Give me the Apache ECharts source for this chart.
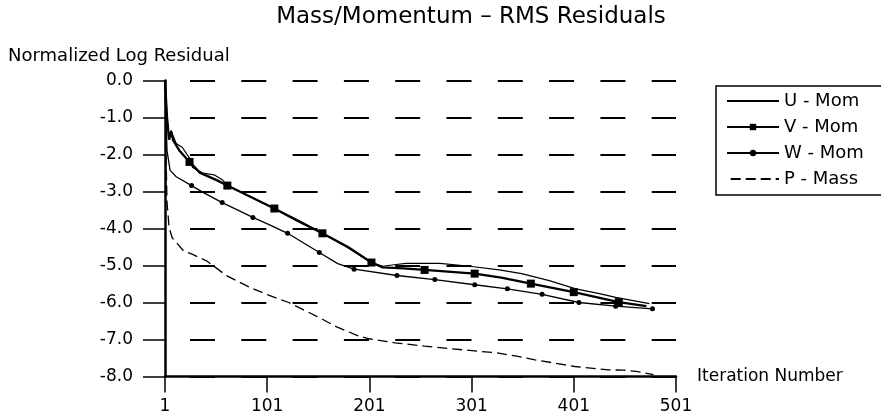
<!DOCTYPE html>
<html><head><meta charset="utf-8">
<script src="https://cdn.jsdelivr.net/npm/echarts@6/dist/echarts.min.js"></script>
<style>html,body{margin:0;padding:0;background:#fff}#c{width:881px;height:419px}</style>
</head><body><div id="c"></div>
<script>
const titleText = 'Mass/Momentum – RMS Residuals';
const yAxisTitle = 'Normalized Log Residual';
const xAxisTitle = 'Iteration Number';
const seriesNames = ['U - Mom', 'V - Mom', 'W - Mom', 'P - Mass'];
const xTickValues = [1, 101, 201, 301, 401, 501];
const yTickValues = [0, -1, -2, -3, -4, -5, -6, -7, -8];

const uIter = [1, 3, 5, 7, 9, 12, 18, 25, 28, 38, 49, 57, 62, 85, 108, 130, 155, 180, 203, 214, 225, 237, 270, 299, 328, 350, 377, 403, 426, 442, 475];
const uVal  = [0, -1.0, -1.55, -1.35, -1.5, -1.7, -1.81, -2.1, -2.35, -2.5, -2.55, -2.68, -2.84, -3.15, -3.46, -3.76, -4.13, -4.52, -4.92, -5.02, -4.98, -4.94, -4.94, -5.02, -5.12, -5.22, -5.41, -5.63, -5.76, -5.86, -6.03];

const vIter = [1, 3, 5, 7, 9, 15, 25, 35, 52, 62, 85, 108, 130, 155, 180, 203, 214, 234, 255, 304, 330, 359, 401, 445, 472];
const vVal  = [0, -1.0, -1.6, -1.38, -1.62, -1.89, -2.2, -2.49, -2.7, -2.84, -3.15, -3.46, -3.78, -4.13, -4.5, -4.92, -5.05, -5.08, -5.12, -5.22, -5.33, -5.49, -5.72, -5.99, -6.1];
const vMarkerIter = [25, 62, 108, 155, 203, 255, 304, 359, 401, 445];

const wIter = [1, 2, 3, 6, 12, 27, 40, 57, 87, 105, 121, 152, 170, 186, 228, 265, 304, 336, 370, 406, 442, 478];
const wVal  = [0, -1.0, -1.9, -2.43, -2.6, -2.84, -3.05, -3.3, -3.7, -3.92, -4.13, -4.65, -4.95, -5.1, -5.27, -5.38, -5.52, -5.63, -5.78, -6.0, -6.1, -6.17];
const wMarkerIter = [27, 57, 87, 121, 152, 186, 228, 265, 304, 336, 370, 406, 442, 478];

const pIter = [1, 2, 3, 5, 8, 19, 28, 42, 61, 84, 103, 122, 150, 169, 190, 201, 226, 255, 281, 325, 345, 363, 385, 402, 435, 450, 462, 479];
const pVal  = [0, -2.0, -3.3, -3.97, -4.25, -4.6, -4.7, -4.88, -5.27, -5.59, -5.81, -6.0, -6.38, -6.66, -6.9, -6.98, -7.09, -7.18, -7.25, -7.36, -7.45, -7.55, -7.65, -7.73, -7.82, -7.83, -7.86, -7.95];

function build(iters, vals, markers) {
  return iters.map((it, i) => {
    const item = { value: [it, vals[i]] };
    if (!markers || markers.indexOf(it) < 0) item.symbol = 'none';
    return item;
  });
}

const FONT = 'DejaVu Sans, Liberation Sans, sans-serif';
const chart = echarts.init(document.getElementById('c'), null, { renderer: 'canvas' });
chart.setOption({
  animation: false,
  backgroundColor: '#fff',
  title: [
    { text: titleText, left: 471, top: 6, textAlign: 'center', padding: 0,
      textStyle: { fontFamily: FONT, fontSize: 23, fontWeight: 'normal', color: '#000' } },
    { text: yAxisTitle, left: 8, top: 47, padding: 0,
      textStyle: { fontFamily: FONT, fontSize: 18, fontWeight: 'normal', color: '#000' } }
  ],
  legend: {
    orient: 'vertical', left: 716, top: 86,
    padding: [6, 40, 7, 10],
    itemWidth: 52, itemHeight: 8, itemGap: 8,
    borderColor: '#000', borderWidth: 1.5,
    textStyle: { fontFamily: FONT, fontSize: 18, color: '#000' },
    data: [
      { name: seriesNames[0], itemStyle: { opacity: 0 } },
      { name: seriesNames[1] },
      { name: seriesNames[2] },
      { name: seriesNames[3], itemStyle: { opacity: 0 } }
    ]
  },
  grid: { left: 165, right: 205, top: 80.5, bottom: 42.5, containLabel: false },
  xAxis: {
    type: 'value', min: xTickValues[0], max: xTickValues[xTickValues.length - 1], interval: 100,
    name: xAxisTitle, nameLocation: 'end', nameGap: 21,
    nameTextStyle: { fontFamily: FONT, fontSize: 17, color: '#000' },
    axisLine: { onZero: false, lineStyle: { color: '#000', width: 2.5 } },
    axisTick: { show: true, length: 16, lineStyle: { color: '#000', width: 1.5 } },
    axisLabel: { margin: 22, fontFamily: FONT, fontSize: 17, color: '#000' },
    splitLine: { show: false }
  },
  yAxis: {
    type: 'value', min: yTickValues[yTickValues.length - 1], max: yTickValues[0], interval: 1,
    axisLine: { show: true, onZero: false, lineStyle: { color: '#000', width: 2.5 } },
    axisTick: { show: true, length: 22, lineStyle: { color: '#000', width: 1.5 } },
    axisLabel: { margin: 32, fontFamily: FONT, fontSize: 17, color: '#000',
      formatter: v => v.toFixed(1) },
    splitLine: { show: true, lineStyle: { color: '#000', width: 2, type: [25, 26.3], dashOffset: 26.3 } }
  },
  series: [
    { name: seriesNames[0], type: 'line', symbol: 'none', data: build(uIter, uVal, null),
      lineStyle: { color: '#000', width: 1.2 }, itemStyle: { color: '#000' }, z: 3 },
    { name: seriesNames[1], type: 'line', symbol: 'rect', symbolSize: 8, data: build(vIter, vVal, vMarkerIter),
      lineStyle: { color: '#000', width: 2.3 }, itemStyle: { color: '#000' }, z: 4 },
    { name: seriesNames[2], type: 'line', symbol: 'circle', symbolSize: 5, data: build(wIter, wVal, wMarkerIter),
      lineStyle: { color: '#000', width: 1.3 }, itemStyle: { color: '#000' }, z: 3 },
    { name: seriesNames[3], type: 'line', symbol: 'none', data: build(pIter, pVal, null),
      lineStyle: { color: '#000', width: 1.3, type: [10, 5] }, itemStyle: { color: '#000' }, z: 3 }
  ]
});
</script></body></html>
